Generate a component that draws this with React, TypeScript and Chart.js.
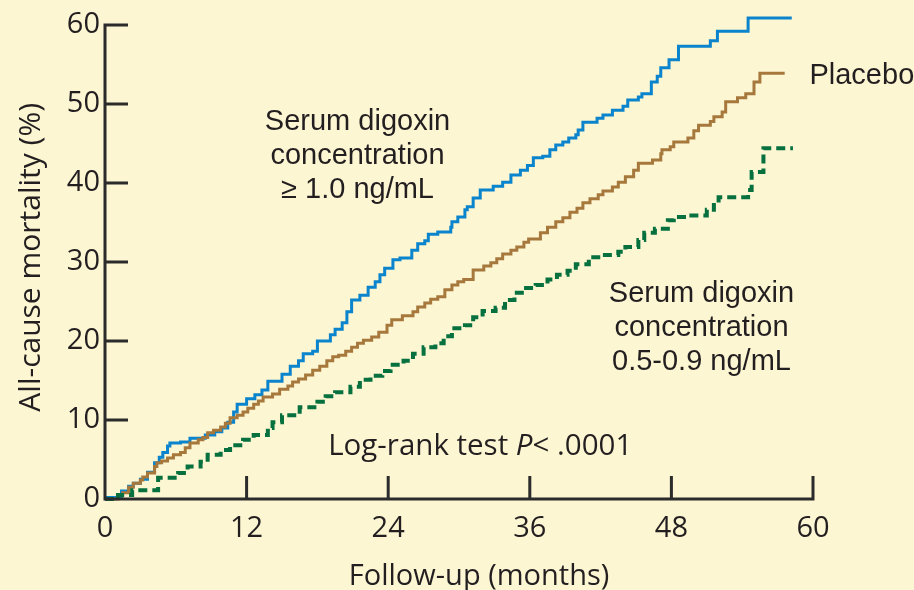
import React, { useEffect, useRef } from "react";
import { Chart, registerables } from "chart.js";

Chart.register(...registerables);

// ---- axis ticks ----
const xTickValues = [0, 12, 24, 36, 48, 60];
const yTickValues = [0, 10, 20, 30, 40, 50, 60];

// ---- Serum digoxin concentration >= 1.0 ng/mL (blue) ----
const highMonths = [0, 1.4, 2.0, 2.4, 3.0, 3.6, 4.2, 4.6, 4.9, 5.3, 5.5, 6.4, 7.2, 8.5, 9.3, 9.9, 10.4, 10.9, 11.2, 12.0, 12.7, 13.3, 13.8, 15.0, 15.7, 16.4, 16.8, 17.6, 18.0, 19.1, 19.5, 20.1, 20.5, 20.9, 21.6, 22.3, 22.9, 23.3, 23.7, 24.4, 25.0, 26.0, 26.5, 27.1, 27.4, 28.2, 29.3, 29.4, 29.9, 30.5, 30.7, 31.2, 31.8, 32.9, 33.7, 34.4, 35.2, 35.8, 36.3, 37.1, 37.7, 38.2, 38.8, 39.3, 39.9, 40.1, 40.5, 41.7, 42.2, 43.0, 43.9, 44.3, 45.2, 45.5, 46.3, 46.8, 47.1, 47.8, 48.6, 51.3, 51.9, 54.5, 58.2];
const highPct = [0.2, 1.0, 1.6, 2.0, 2.5, 3.4, 4.6, 5.3, 5.9, 6.7, 7.1, 7.2, 7.7, 8.1, 8.5, 9.0, 9.7, 11.0, 12.0, 12.7, 13.2, 13.8, 14.9, 15.8, 16.8, 17.5, 18.4, 18.7, 20.0, 20.8, 21.5, 22.3, 23.7, 25.2, 25.8, 26.8, 27.5, 28.4, 29.2, 30.3, 30.5, 31.5, 32.3, 32.7, 33.5, 33.8, 34.4, 35.1, 35.7, 36.6, 37.0, 38.1, 39.1, 39.6, 40.1, 41.0, 41.6, 42.2, 43.2, 43.4, 44.2, 44.8, 45.2, 45.7, 46.1, 46.7, 47.7, 48.2, 48.6, 49.2, 49.7, 50.5, 50.9, 51.3, 52.8, 53.5, 54.6, 55.6, 57.3, 58.0, 59.2, 60.9, 60.9];

// ---- Placebo (brown) ----
const placeboMonths = [0, 1.1, 1.5, 2.0, 2.4, 3.0, 3.2, 3.6, 4.2, 4.4, 4.8, 5.3, 5.8, 6.4, 6.8, 7.2, 7.9, 8.3, 8.7, 9.2, 9.8, 10.2, 10.6, 11.2, 11.7, 12.1, 12.6, 13.0, 13.4, 14.2, 14.8, 15.5, 15.9, 16.4, 17.0, 17.6, 18.2, 18.8, 19.3, 19.8, 20.4, 20.9, 21.4, 21.9, 22.6, 23.2, 23.9, 24.3, 25.2, 26.1, 26.5, 27.1, 27.6, 28.2, 28.8, 29.4, 29.9, 30.4, 31.2, 32.1, 32.7, 33.2, 33.7, 34.4, 34.9, 35.5, 35.9, 36.9, 37.5, 38.2, 38.8, 39.4, 40.0, 40.5, 41.1, 41.8, 42.2, 43.0, 43.5, 44.1, 44.8, 45.2, 46.4, 47.1, 47.2, 47.9, 48.2, 49.4, 49.9, 50.3, 51.3, 51.6, 52.3, 52.6, 53.6, 54.3, 55.0, 55.5, 57.6];
const placeboPct = [0, 0.4, 0.8, 1.5, 2.0, 2.4, 2.8, 3.3, 4.1, 4.6, 4.8, 5.2, 5.6, 5.9, 6.5, 7.1, 7.5, 7.8, 8.4, 8.7, 9.1, 9.6, 10.3, 10.6, 11.0, 11.5, 12.0, 12.4, 12.9, 13.3, 13.9, 14.3, 14.8, 15.2, 15.7, 16.3, 16.8, 17.5, 18.0, 18.2, 18.7, 19.2, 19.7, 20.1, 20.5, 21.1, 22.0, 22.7, 23.2, 23.7, 24.3, 24.8, 25.3, 25.6, 26.5, 27.1, 27.5, 27.8, 29.0, 29.5, 29.9, 30.4, 31.0, 31.5, 31.9, 32.5, 32.9, 33.7, 34.4, 35.1, 35.6, 36.3, 36.8, 37.5, 38.0, 38.5, 39.0, 39.5, 40.1, 40.8, 41.6, 42.5, 42.9, 43.7, 44.2, 44.6, 45.2, 45.7, 46.6, 47.3, 47.8, 48.4, 49.0, 50.3, 50.8, 51.3, 52.8, 53.9, 53.9];

// ---- Serum digoxin concentration 0.5-0.9 ng/mL (green, dashed) ----
const lowMonths = [0, 1.1, 2.3, 4.5, 6.2, 7.0, 8.1, 8.7, 9.8, 10.6, 11.7, 12.6, 13.8, 14.2, 15.0, 16.5, 18.0, 18.7, 19.5, 20.8, 21.6, 22.5, 23.5, 24.2, 25.3, 26.1, 27.0, 28.0, 28.7, 29.4, 30.5, 31.2, 32.0, 33.1, 33.9, 34.7, 35.5, 36.5, 37.5, 38.3, 39.2, 39.9, 41.0, 42.0, 43.5, 44.1, 45.2, 45.7, 46.6, 47.7, 48.2, 49.4, 51.0, 51.6, 52.0, 54.5, 54.8, 55.8, 58.3];
const lowPct = [0, 0.5, 1.1, 2.7, 3.3, 4.1, 4.7, 5.6, 6.2, 6.8, 7.5, 8.1, 9.0, 9.7, 10.6, 11.6, 12.3, 13.0, 13.5, 14.2, 15.1, 15.6, 16.2, 17.0, 17.5, 18.4, 19.2, 19.7, 20.6, 21.6, 22.0, 23.0, 23.8, 24.2, 25.2, 26.1, 26.7, 27.1, 27.8, 28.4, 28.9, 29.7, 30.6, 30.9, 31.3, 31.9, 32.8, 33.7, 34.2, 35.3, 35.7, 35.9, 36.6, 37.5, 38.2, 39.1, 41.4, 44.4, 44.4];

const xTitle = "Follow-up (months)";
const yTitle = "All-cause mortality (%)";
const highLabel = ["Serum digoxin", "concentration", "\u2265 1.0 ng/mL"];
const lowLabel = ["Serum digoxin", "concentration", "0.5-0.9 ng/mL"];
const placeboLabel = "Placebo";

const BG = "#fdf6d3";
const INK = "#231f20";
const AXIS = "#2b2b2b";
const BLUE = "#0a84cc";
const BROWN = "#a6783c";
const GREEN = "#06703f";

const SANS = '"Open Sans", "Noto Sans", sans-serif';
const ARIAL = '"Liberation Sans", Arial, sans-serif';

function pairs(xs: number[], ys: number[]) {
  return xs.map((x, i) => ({ x, y: ys[i] }));
}

export default function App() {
  const ref = useRef<HTMLCanvasElement>(null);

  useEffect(() => {
    document.body.style.margin = "0";
    document.body.style.background = BG;
    const canvas = ref.current as HTMLCanvasElement;

    const decor = {
      id: "decor",
      beforeDraw(chart: any) {
        const ctx = chart.ctx;
        ctx.save();
        ctx.fillStyle = BG;
        ctx.fillRect(0, 0, chart.width, chart.height);
        ctx.restore();
      },
      afterDatasetsDraw(chart: any) {
        const ctx = chart.ctx;
        const xs = chart.scales.x;
        const ys = chart.scales.y;
        const x0 = xs.getPixelForValue(0);
        const xEnd = xs.getPixelForValue(60);
        const y0 = ys.getPixelForValue(0);
        const yTop = ys.getPixelForValue(60);
        const tl = 23;
        ctx.save();
        ctx.strokeStyle = AXIS;
        ctx.lineWidth = 3;
        ctx.lineJoin = "miter";
        ctx.lineCap = "butt";
        ctx.beginPath();
        ctx.moveTo(x0 + tl, yTop);
        ctx.lineTo(x0, yTop);
        ctx.lineTo(x0, y0);
        ctx.lineTo(xEnd, y0);
        ctx.lineTo(xEnd, y0 - tl);
        ctx.stroke();
        ctx.beginPath();
        xTickValues.forEach((v) => {
          if (v === 0 || v === 60) return;
          const px = xs.getPixelForValue(v);
          ctx.moveTo(px, y0);
          ctx.lineTo(px, y0 - tl);
        });
        yTickValues.forEach((v) => {
          if (v === 0 || v === 60) return;
          const py = ys.getPixelForValue(v);
          ctx.moveTo(x0, py);
          ctx.lineTo(x0 + tl, py);
        });
        ctx.stroke();
        ctx.restore();
      },
      afterDraw(chart: any) {
        const ctx = chart.ctx;
        const xs = chart.scales.x;
        const ys = chart.scales.y;
        const X = (v: number) => xs.getPixelForValue(v);
        const Y = (v: number) => ys.getPixelForValue(v);
        ctx.save();
        ctx.fillStyle = INK;
        ctx.textBaseline = "alphabetic";

        // annotations
        ctx.font = `29px ${ARIAL}`;
        ctx.textAlign = "center";
        highLabel.forEach((t, i) => ctx.fillText(t, X(21.4), Y(46.7) + i * 34));
        lowLabel.forEach((t, i) => ctx.fillText(t, X(50.55), Y(24.9) + i * 34));
        ctx.textAlign = "left";
        ctx.fillText(placeboLabel, X(59.7), Y(52.5));

        // log-rank
        const parts = [
          { t: "Log-rank test ", it: false },
          { t: "P", it: true },
          { t: "< .0001", it: false },
        ];
        const fNorm = `29.5px ${SANS}`;
        const fIt = `italic 29.5px ${SANS}`;
        let total = 0;
        parts.forEach((p) => {
          ctx.font = p.it ? fIt : fNorm;
          total += ctx.measureText(p.t).width;
        });
        let cx = X(31.8) - total / 2;
        const by = Y(5.6);
        ctx.textAlign = "left";
        parts.forEach((p) => {
          ctx.font = p.it ? fIt : fNorm;
          ctx.fillText(p.t, cx, by);
          cx += ctx.measureText(p.t).width;
        });

        // axis titles
        ctx.font = `29px ${SANS}`;
        ctx.textAlign = "center";
        ctx.fillText(xTitle, X(31.7), 585);
        ctx.font = `30px ${SANS}`;
        ctx.translate(40, Y(30.6));
        ctx.rotate(-Math.PI / 2);
        ctx.fillText(yTitle, 0, 0);
        ctx.restore();
      },
    };

    const common = {
      pointRadius: 0,
      pointHoverRadius: 0,
      fill: false,
      stepped: "before" as const,
      clip: false as any,
      tension: 0,
    };

    const chart = new Chart(canvas, {
      type: "line",
      data: {
        datasets: [
          {
            ...common,
            label: lowLabel.join(" "),
            data: pairs(lowMonths, lowPct),
            borderColor: GREEN,
            borderWidth: 4,
            borderDash: [9, 5],
          },
          {
            ...common,
            label: placeboLabel,
            data: pairs(placeboMonths, placeboPct),
            borderColor: BROWN,
            borderWidth: 3,
          },
          {
            ...common,
            label: highLabel.join(" "),
            data: pairs(highMonths, highPct),
            borderColor: BLUE,
            borderWidth: 3,
          },
        ],
      },
      options: {
        responsive: false,
        animation: false,
        devicePixelRatio: 1,
        layout: { padding: { top: 25, right: 101, bottom: 0, left: 0 } },
        plugins: { legend: { display: false }, tooltip: { enabled: false } },
        scales: {
          x: {
            type: "linear",
            min: 0,
            max: 60,
            afterBuildTicks: (s: any) => {
              s.ticks = xTickValues.map((v) => ({ value: v }));
            },
            afterFit: (s: any) => {
              s.height = 91;
            },
            grid: { display: false, drawTicks: false },
            border: { display: false },
            ticks: {
              color: INK,
              font: { family: SANS, size: 29 },
              padding: 12,
              maxRotation: 0,
              autoSkip: false,
            },
          },
          y: {
            type: "linear",
            min: 0,
            max: 60,
            afterBuildTicks: (s: any) => {
              s.ticks = yTickValues.map((v) => ({ value: v }));
            },
            afterFit: (s: any) => {
              s.width = 105;
            },
            grid: { display: false, drawTicks: false },
            border: { display: false },
            ticks: {
              color: INK,
              font: { family: SANS, size: 29 },
              padding: 5,
              autoSkip: false,
            },
          },
        },
      },
      plugins: [decor],
    });
    return () => chart.destroy();
  }, []);

  return <canvas ref={ref} width={914} height={590} style={{ display: "block" }} />;
}
